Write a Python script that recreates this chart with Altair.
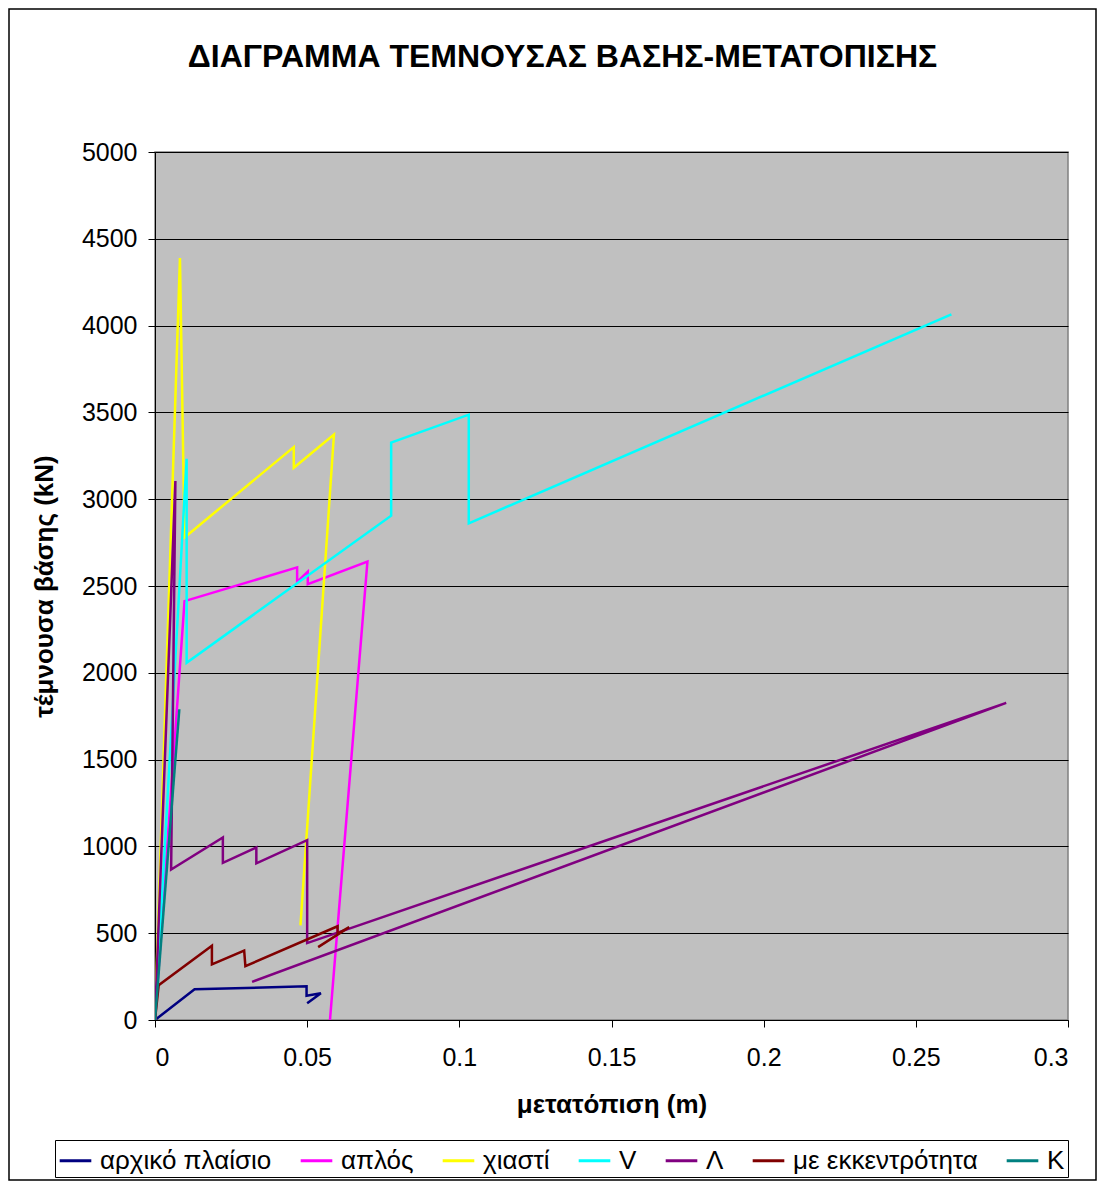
import altair as alt
import pandas as pd

# ---- data ----
series_names = ["αρχικό πλαίσιο", "απλός", "χιαστί", "V", "Λ", "με εκκεντρότητα", "K"]
series_colors = ["#000080", "#FF00FF", "#FFFF00", "#00FFFF", "#800080", "#800000", "#008080"]

arxiko_x = [0.0, 0.0130, 0.0498, 0.0498, 0.0545, 0.0500]
arxiko_y = [0, 177, 194, 140, 154, 96]

aplos_x = [0.0, 0.0097, 0.0111, 0.0467, 0.0467, 0.0502, 0.0502, 0.0698, 0.0575]
aplos_y = [0, 2413, 2420, 2607, 2524, 2582, 2510, 2640, 0]

xiasti_x = [0.0, 0.0082, 0.0097, 0.0111, 0.0456, 0.0456, 0.0588, 0.0478]
xiasti_y = [0, 4389, 2780, 2800, 3300, 3181, 3372, 545]

v_x = [0.0, 0.0104, 0.0104, 0.0776, 0.0776, 0.1031, 0.1031, 0.2617]
v_y = [0, 3233, 2058, 2905, 3326, 3487, 2861, 4065]

lamda_x = [0.0, 0.0067, 0.0053, 0.0223, 0.0223, 0.0333, 0.0333, 0.0500, 0.0500, 0.2797, 0.0319]
lamda_y = [0, 3105, 867, 1052, 905, 994, 902, 1036, 443, 1827, 220]

ekk_x = [0.0, 0.0012, 0.0187, 0.0187, 0.0293, 0.0297, 0.0600, 0.0600, 0.0638, 0.0536]
ekk_y = [0, 200, 428, 320, 400, 310, 540, 497, 535, 420]

k_x = [0.0, 0.0080]
k_y = [0, 1790]

x_ticks = [0, 0.05, 0.1, 0.15, 0.2, 0.25, 0.3]
y_ticks = [0, 500, 1000, 1500, 2000, 2500, 3000, 3500, 4000, 4500, 5000]

title_text = "ΔΙΑΓΡΑΜΜΑ ΤΕΜΝΟΥΣΑΣ ΒΑΣΗΣ-ΜΕΤΑΤΟΠΙΣΗΣ"
x_title = "μετατόπιση (m)"
y_title = "τέμνουσα βάσης (kN)"

# ---- build table ----
all_xy = [(arxiko_x, arxiko_y), (aplos_x, aplos_y), (xiasti_x, xiasti_y), (v_x, v_y),
          (lamda_x, lamda_y), (ekk_x, ekk_y), (k_x, k_y)]
rows = []
for name, (xs, ys) in zip(series_names, all_xy):
    for i, (xv, yv) in enumerate(zip(xs, ys)):
        rows.append({"series": name, "x": xv, "y": yv, "idx": i})
df = pd.DataFrame(rows)

FONT = "Liberation Sans"
W, H = 913, 868

lines = alt.Chart(df).mark_line(strokeWidth=2.5, clip=True).encode(
    x=alt.X("x:Q",
            scale=alt.Scale(domain=[0, 0.3], nice=False, zero=False),
            axis=alt.Axis(values=x_ticks, format=".2~f", title=x_title, grid=False,
                          tickSize=7, tickColor="black", domainColor="black",
                          labelPadding=18, titlePadding=21,
                          labelFont=FONT, labelFontSize=25, labelColor="black",
                          titleFont=FONT, titleFontSize=26, titleFontWeight="bold",
                          titleColor="black")),
    y=alt.Y("y:Q",
            scale=alt.Scale(domain=[0, 5000], nice=False),
            axis=alt.Axis(values=y_ticks, format="d", title=y_title, grid=True,
                          gridColor="black", gridWidth=1, gridOpacity=1,
                          tickSize=7, tickColor="black", domainColor="black",
                          labelPadding=11, titlePadding=24,
                          labelFont=FONT, labelFontSize=25, labelColor="black",
                          titleFont=FONT, titleFontSize=26, titleFontWeight="bold",
                          titleColor="black")),
    color=alt.Color("series:N",
                    scale=alt.Scale(domain=series_names, range=series_colors),
                    legend=alt.Legend(title=None, orient="none", direction="horizontal",
                                      columns=7, legendX=-100, legendY=988,
                                      symbolType="stroke", symbolSize=1000,
                                      symbolStrokeWidth=3, labelFontSize=26,
                                      labelFont=FONT, labelColor="black",
                                      labelOffset=7, columnPadding=22,
                                      strokeColor="black", fillColor="white",
                                      padding=3, labelLimit=400)),
    order="idx:Q",
)

border = alt.Chart(pd.DataFrame({"a": [0]})).mark_rect(
    fill=None, stroke="black", strokeWidth=1.5, clip=False
).encode(
    x=alt.value(-146), x2=alt.value(941),
    y=alt.value(-143), y2=alt.value(1028),
)

chart = alt.layer(border, lines).properties(
    width=W, height=H,
    title=alt.TitleParams(title_text, font=FONT, fontSize=32, fontWeight="bold",
                          color="black", anchor="middle", offset=-66, dx=-49),
    padding={"left": 147, "top": 144, "right": 30, "bottom": 162},
    autosize=alt.AutoSizeParams(type="none"),
    background="white",
).configure_view(
    fill="#C0C0C0", stroke="#808080", strokeWidth=1.5
)

chart.save("out.html", embed_options={"renderer": "svg", "actions": False})
